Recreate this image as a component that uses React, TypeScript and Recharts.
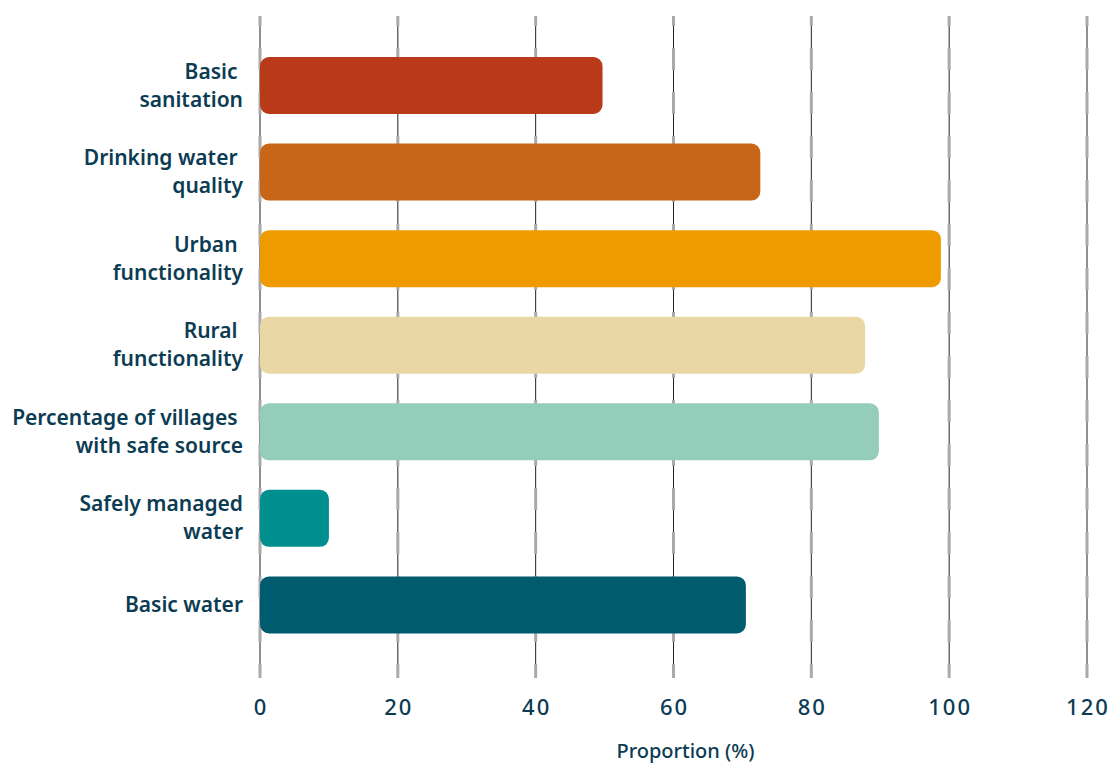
import { Bar, BarChart, CartesianGrid, Cell, Label, XAxis, YAxis } from "recharts";

const categories = [
  "Basic \nsanitation",
  "Drinking water \nquality",
  "Urban \nfunctionality",
  "Rural \nfunctionality",
  "Percentage of villages \nwith safe source",
  "Safely managed\nwater",
  "Basic water",
];
const proportions = [49.7, 72.6, 98.8, 87.8, 89.8, 10.0, 70.5];
const barColors = ["#b83a19", "#c86516", "#ef9b00", "#e9d7a6", "#94cdb9", "#008f8f", "#005b6e"];
const xTicks = [0, 20, 40, 60, 80, 100, 120];

const data = categories.map((name, i) => ({ name, value: proportions[i] }));

const TEXT = "#0c3c53";
const FONT = "'Noto Sans', sans-serif";

function CategoryTick(props: any) {
  const { x, y, payload } = props;
  const lines = String(payload.value).split("\n");
  const lh = 28;
  const start = -((lines.length - 1) * lh) / 2;
  return (
    <text
      x={x}
      y={y}
      textAnchor="end"
      fill={TEXT}
      fontFamily={FONT}
      fontSize={21}
      fontWeight={600}
      style={{ whiteSpace: "pre" }}
    >
      {lines.map((l, i) => (
        <tspan key={i} x={x} y={y + start + i * lh} dy="0.35em">
          {l}
        </tspan>
      ))}
    </text>
  );
}

function ValueTick(props: any) {
  const { x, y, payload } = props;
  return (
    <text
      x={x + 1}
      y={y + 21}
      textAnchor="middle"
      dy="0.35em"
      fill={TEXT}
      fontFamily={FONT}
      fontSize={22}
      fontWeight={500}
      letterSpacing={2}
    >
      {payload.value}
    </text>
  );
}

function GridLine(props: any) {
  const { x1, y1, x2, y2 } = props;
  return (
    <g>
      <line x1={x1} y1={y1} x2={x2} y2={y2} stroke="#222" strokeWidth={1} />
      <line
        x1={x1}
        y1={y1}
        x2={x2}
        y2={y2}
        stroke="#aaa"
        strokeWidth={3}
        strokeDasharray="22 22"
        strokeDashoffset={12}
      />
    </g>
  );
}

export default function App() {
  return (
    <div
      style={{
        position: "absolute",
        left: 0,
        top: 0,
        width: 1109,
        height: 765,
        overflow: "hidden",
        background: "#fff",
      }}
    >
      <BarChart
        width={1109}
        height={765}
        data={data}
        layout="vertical"
        margin={{ top: 16, right: 22, bottom: 0, left: 0 }}
        barCategoryGap={0}
      >
        <CartesianGrid horizontal={false} vertical={GridLine} />
        <XAxis
          type="number"
          domain={[0, 120]}
          ticks={xTicks}
          tickLine={false}
          axisLine={false}
          height={87}
          tick={ValueTick}
          interval={0}
        >
          <Label
            value="Proportion (%)"
            position="insideBottom"
            offset={7}
            dx={12}
            fill={TEXT}
            fontFamily={FONT}
            fontSize={20}
            fontWeight={500}
          />
        </XAxis>
        <YAxis
          type="category"
          dataKey="name"
          width={260}
          tickLine={false}
          axisLine={false}
          tick={CategoryTick}
          tickMargin={11}
          interval={0}
          padding={{ top: 26, bottom: 30 }}
        />
        <Bar dataKey="value" barSize={57} radius={9} isAnimationActive={false}>
          {data.map((d, i) => (
            <Cell key={d.name} fill={barColors[i]} />
          ))}
        </Bar>
      </BarChart>
    </div>
  );
}
